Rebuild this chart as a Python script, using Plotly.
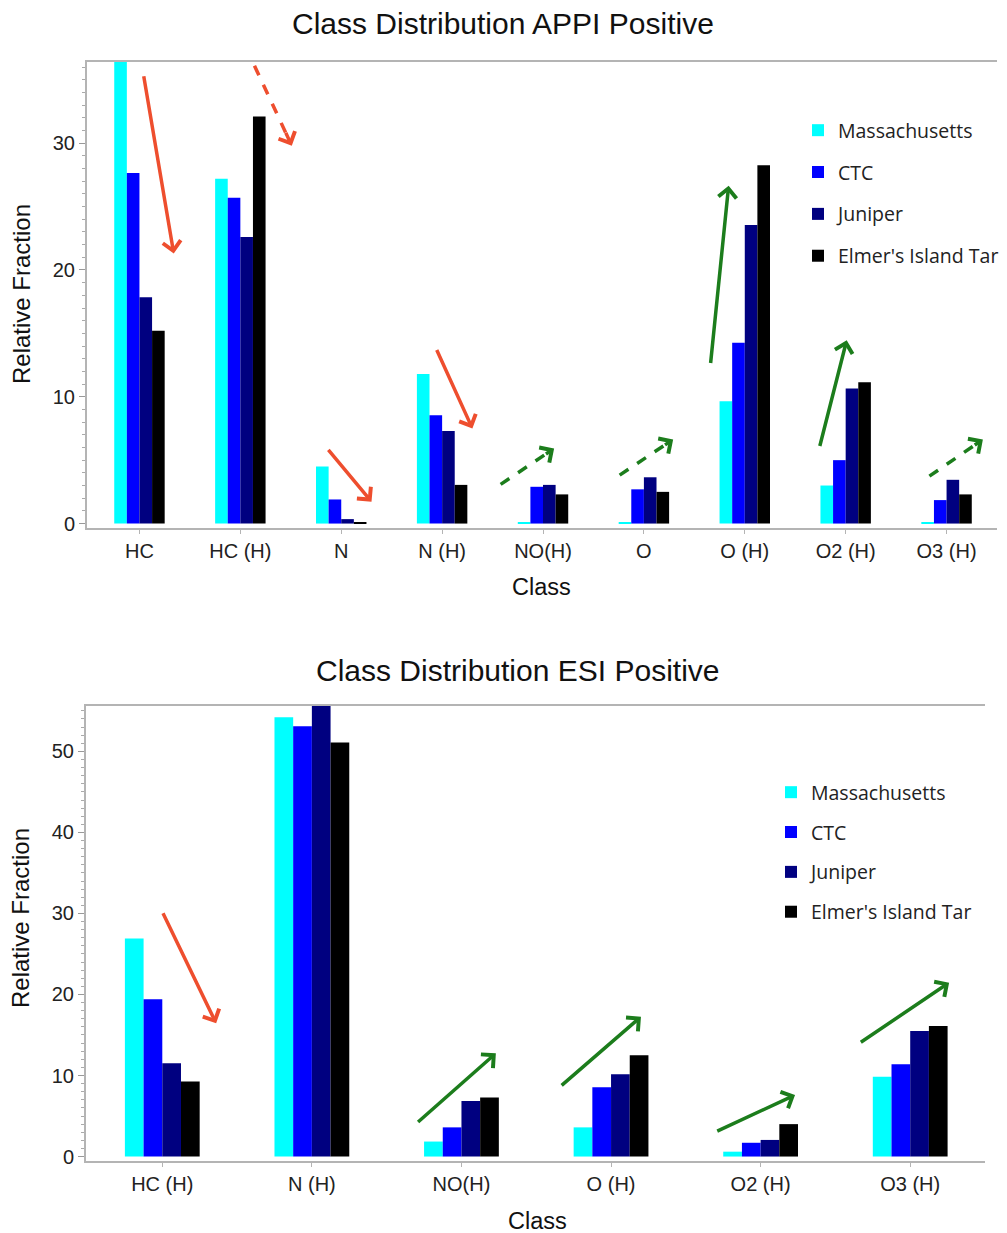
import plotly.graph_objects as go

# ---------------- data ----------------
series_names = ["Massachusetts", "CTC", "Juniper", "Elmer's Island Tar"]
series_colors = ["#00FFFF", "#0000FF", "#000080", "#000000"]

appi_classes = ["HC", "HC (H)", "N", "N (H)", "NO(H)", "O", "O (H)", "O2 (H)", "O3 (H)"]
appi_mass = [36.4, 27.2, 4.5, 11.8, 0.1, 0.1, 9.65, 3.0, 0.1]
appi_ctc = [27.65, 25.7, 1.9, 8.55, 2.9, 2.7, 14.25, 5.0, 1.85]
appi_juniper = [17.85, 22.6, 0.35, 7.3, 3.05, 3.65, 23.55, 10.65, 3.45]
appi_elmer = [15.2, 32.1, 0.1, 3.05, 2.3, 2.5, 28.25, 11.15, 2.3]

esi_classes = ["HC (H)", "N (H)", "NO(H)", "O (H)", "O2 (H)", "O3 (H)"]
esi_mass = [26.9, 54.2, 1.85, 3.6, 0.6, 9.85]
esi_ctc = [19.4, 53.1, 3.6, 8.55, 1.7, 11.4]
esi_juniper = [11.5, 55.6, 6.85, 10.15, 2.05, 15.5]
esi_elmer = [9.25, 51.1, 7.3, 12.5, 4.0, 16.1]

appi_values = [appi_mass, appi_ctc, appi_juniper, appi_elmer]
esi_values = [esi_mass, esi_ctc, esi_juniper, esi_elmer]

# trend arrows: (x_start, y_start, x_end, y_end, color, dashed) in data units
RED = "#EE4E2E"
GREEN = "#1C7D1C"
appi_arrows = [
    (0.04, 35.4, 0.34, 21.3, RED, False),
    (1.14, 36.1, 1.51, 29.8, RED, True),
    (1.86, 5.92, 2.30, 1.72, RED, False),
    (2.94, 13.8, 3.30, 7.5, RED, False),
    (3.58, 3.09, 4.11, 5.92, GREEN, True),
    (4.76, 3.82, 5.29, 6.63, GREEN, True),
    (5.66, 12.54, 5.84, 26.65, GREEN, False),
    (6.74, 6.0, 7.01, 14.45, GREEN, False),
    (7.83, 3.74, 8.36, 6.63, GREEN, True),
]
esi_arrows = [
    (0.0, 30.2, 0.36, 16.44, RED, False),
    (1.70, 4.10, 2.23, 12.74, GREEN, False),
    (2.66, 8.62, 3.20, 17.26, GREEN, False),
    (3.70, 3.06, 4.23, 7.59, GREEN, False),
    (4.66, 13.98, 5.26, 21.46, GREEN, False),
]

# ---------------- figure ----------------
W, H = 1007, 1233
fig = go.Figure()

for name, color, vals in zip(series_names, series_colors, appi_values):
    fig.add_trace(go.Bar(x=appi_classes, y=vals, name=name, marker_color=color,
                         marker_line_width=0, xaxis="x", yaxis="y",
                         legend="legend", legendgroup="a_" + name))
for name, color, vals in zip(series_names, series_colors, esi_values):
    fig.add_trace(go.Bar(x=esi_classes, y=vals, name=name, marker_color=color,
                         marker_line_width=0, xaxis="x2", yaxis="y2",
                         legend="legend2", legendgroup="e_" + name))

def px_x(p):
    return p / W

def px_y(p):
    return 1 - p / H

axis_line = "#B4B4B4"
tick_font = dict(family="Liberation Sans, Arial, sans-serif", size=20, color="#222222")

common_x = dict(showgrid=False, zeroline=False, showline=True, linecolor=axis_line,
                linewidth=2, mirror=True, ticks="outside", ticklen=4, tickcolor=axis_line,
                tickfont=tick_font, type="category", automargin=False)
common_y = dict(showgrid=False, zeroline=False, showline=True, linecolor=axis_line,
                linewidth=2, ticks="outside", ticklen=6, tickcolor="#999999", dtick=10,
                tickfont=tick_font, automargin=False,
                minor=dict(dtick=1, ticklen=3, tickcolor="#AAAAAA", ticks="outside"))

fig.update_layout(
    width=W, height=H,
    margin=dict(l=0, r=0, t=0, b=0),
    paper_bgcolor="white", plot_bgcolor="white",
    font=dict(family="Liberation Sans, Arial, sans-serif", color="#111111"),
    barmode="group", bargap=0.5, bargroupgap=0,
    xaxis=dict(domain=[px_x(87), px_x(997)], anchor="y", range=[-0.52, 8.5], **common_x),
    yaxis=dict(domain=[px_y(528), px_y(62)], anchor="x", range=[-0.35, 36.4], **common_y),
    xaxis2=dict(domain=[px_x(86), px_x(985)], anchor="y2", range=[-0.51, 5.5], **common_x),
    yaxis2=dict(domain=[px_y(1161), px_y(706)], anchor="x2", range=[-0.55, 55.6], **common_y),
    legend=dict(x=px_x(798), y=px_y(111), xanchor="left", yanchor="top",
                font=dict(family="Open Sans, sans-serif", size=19.5, color="#222222"),
                tracegroupgap=13.5, bgcolor="rgba(0,0,0,0)"),
    legend2=dict(x=px_x(771), y=px_y(773), xanchor="left", yanchor="top",
                 font=dict(family="Open Sans, sans-serif", size=19.5, color="#222222"),
                 tracegroupgap=11.5, bgcolor="rgba(0,0,0,0)"),
    showlegend=True,
)

annotations = []
shapes = []

def text_ann(text, x, y, size, angle=0):
    return dict(text=text, x=px_x(x), y=px_y(y), xref="paper", yref="paper",
                xanchor="center", yanchor="middle", showarrow=False, textangle=angle,
                font=dict(family="Liberation Sans, Arial, sans-serif", size=size, color="#111111"))

annotations.append(text_ann("Class Distribution APPI Positive", 503, 24, 30))
annotations.append(text_ann("Class Distribution ESI Positive", 517, 670, 30))
annotations.append(text_ann("Relative Fraction", 22, 294, 24, -90))
annotations.append(text_ann("Relative Fraction", 20, 918, 24, -90))
annotations.append(text_ann("Class", 541, 587, 23.5))
annotations.append(text_ann("Class", 537, 1221, 23.5))

def add_arrows(arrows, xr, yr):
    for x0, y0, x1, y1, color, dashed in arrows:
        if dashed:
            shapes.append(dict(type="line", xref=xr, yref=yr, x0=x0, y0=y0,
                               x1=x0 + 0.9 * (x1 - x0), y1=y0 + 0.9 * (y1 - y0),
                               line=dict(color=color, width=3.5, dash="dash")))
            tx, ty = x0 + 0.82 * (x1 - x0), y0 + 0.82 * (y1 - y0)
        else:
            tx, ty = x0, y0
        annotations.append(dict(x=x1, y=y1, xref=xr, yref=yr, ax=tx, ay=ty,
                                axref=xr, ayref=yr, text="", showarrow=True,
                                arrowhead=4, arrowsize=1, arrowwidth=3.5,
                                arrowcolor=color, standoff=0, startstandoff=0))

add_arrows(appi_arrows, "x", "y")
add_arrows(esi_arrows, "x2", "y2")

fig.update_layout(annotations=annotations, shapes=shapes)

fig.write_html("out.html")
